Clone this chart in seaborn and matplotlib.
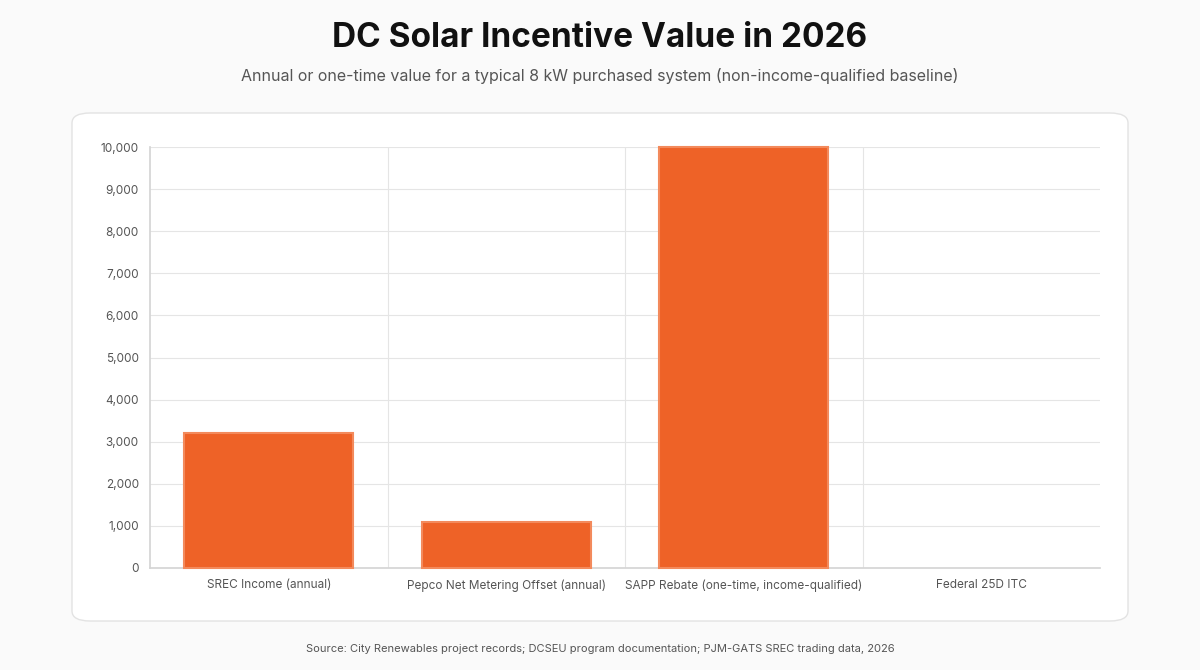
import matplotlib
matplotlib.use("Agg")
import matplotlib.pyplot as plt
import seaborn as sns
import pandas as pd
from matplotlib.patches import FancyBboxPatch
from matplotlib.ticker import FuncFormatter

categories = ["SREC Income (annual)", "Pepco Net Metering Offset (annual)",
              "SAPP Rebate (one-time, income-qualified)", "Federal 25D ITC"]
values = [3200, 1100, 10000, 0]

sns.set_theme(style="white")
plt.rcParams['font.family'] = ['Inter', 'DejaVu Sans']

fig = plt.figure(figsize=(12, 6.7), dpi=100)
fig.patch.set_facecolor("#fafafa")
card = FancyBboxPatch((72/1200, (670-621)/670), 1056/1200, 508/670,
                      boxstyle="round,pad=0,rounding_size=0.015", transform=fig.transFigure,
                      facecolor="white", edgecolor="#e3e3e3", linewidth=1, zorder=-5)
fig.patches.append(card)

ax = fig.add_axes([150/1200, 102/670, 950/1200, 421/670])
ax.set_zorder(2)
ax.set_facecolor("white")
df = pd.DataFrame({"cat": categories, "val": values})
sns.barplot(data=df, x="cat", y="val", ax=ax, color="#ee6227", width=0.71,
            edgecolor="#f38a5c", linewidth=1.5, saturation=1, zorder=3)
for p in ax.patches:
    p.set_clip_on(False)
    if p.get_height() == 0:
        p.set_linewidth(0)
ax.set_xlim(-0.5, 3.5)
ax.set_ylim(0, 10000)
ax.set_yticks(range(0, 10001, 1000))
ax.yaxis.set_major_formatter(FuncFormatter(lambda v, p: f"{int(v):,}"))
ax.set_xlabel(""); ax.set_ylabel("")
for x in [0.5, 1.5, 2.5]:
    ax.axvline(x, color="#e5e5e5", lw=0.8, zorder=1)
ax.grid(axis="y", color="#e5e5e5", lw=0.8, zorder=1)
for s in ["top", "right"]:
    ax.spines[s].set_visible(False)
ax.spines["left"].set_color("#d5d5d5")
ax.spines["bottom"].set_color("#d5d5d5")
ax.tick_params(axis="both", colors="#555555", labelsize=8.5, length=0, pad=8)
ax.set_xticks([-0.5, 0.5, 1.5, 2.5, 3.5], minor=True)
ax.tick_params(axis="x", which="minor", length=8, color="#d5d5d5")

fig.text(0.5, 0.944, "DC Solar Incentive Value in 2026", ha="center", va="center",
         fontsize=24, fontweight="bold", color="#111111")
fig.text(0.5, 0.887, "Annual or one-time value for a typical 8 kW purchased system (non-income-qualified baseline)",
         ha="center", va="center", fontsize=11.5, color="#555555")
fig.text(0.5, 0.031, "Source: City Renewables project records; DCSEU program documentation; PJM-GATS SREC trading data, 2026",
         ha="center", va="center", fontsize=8, color="#555555")
fig.savefig("out.png", dpi=100, facecolor=fig.get_facecolor())
